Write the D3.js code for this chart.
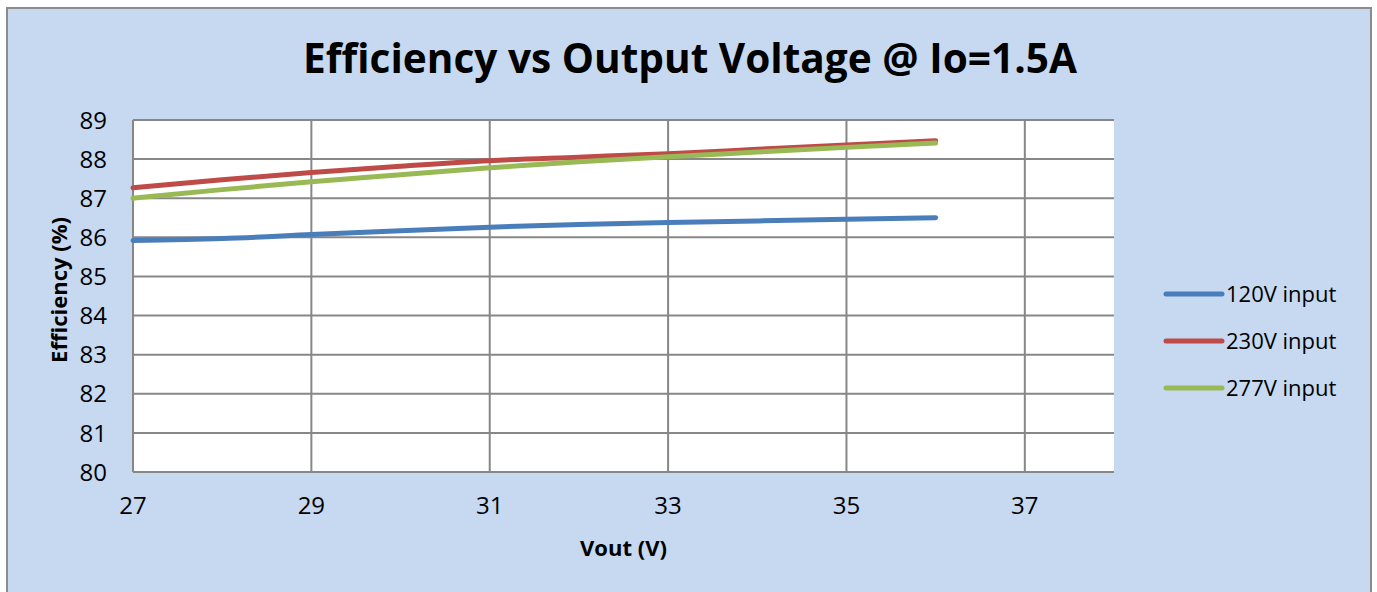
<!DOCTYPE html>
<html>
<head>
<meta charset="utf-8">
<script src="https://cdn.jsdelivr.net/npm/d3@7"></script>
<style>
  body { margin: 0; background: #fff; }
  svg { display: block; font-family: "Open Sans", sans-serif; }
</style>
</head>
<body>
<div id="chart"></div>
<script>
// data
const vout = [27, 28, 29, 30, 31, 32, 33, 34, 35, 36];
const eff120 = [85.92, 85.97, 86.07, 86.17, 86.26, 86.33, 86.38, 86.42, 86.46, 86.50];
const eff230 = [87.27, 87.47, 87.66, 87.82, 87.96, 88.05, 88.14, 88.25, 88.36, 88.47];
const eff277 = [87.00, 87.22, 87.42, 87.60, 87.78, 87.93, 88.06, 88.18, 88.30, 88.41];
const seriesNames = ["120V input", "230V input", "277V input"];
const seriesColors = ["#4a7ebb", "#be4b48", "#98b954"];
const xTicks = [27, 29, 31, 33, 35, 37];
const yTicks = [80, 81, 82, 83, 84, 85, 86, 87, 88, 89];

const W = 1377, H = 592;
const plot = {left: 133, top: 120, right: 1114, bottom: 472};

const svg = d3.select("#chart").append("svg")
    .attr("width", W)
    .attr("height", H);

// chart background + border
svg.append("rect")
    .attr("x", 7).attr("y", 8)
    .attr("width", 1364).attr("height", 600)
    .attr("fill", "#c6d9f0")
    .attr("stroke", "#8c8c8c")
    .attr("stroke-width", 2);

svg.append("rect")
    .attr("x", plot.left).attr("y", plot.top)
    .attr("width", plot.right - plot.left)
    .attr("height", plot.bottom - plot.top)
    .attr("fill", "#fff");

const x = d3.scaleLinear().domain([27, 38]).range([plot.left, plot.right]);
const y = d3.scaleLinear().domain([80, 89]).range([plot.bottom, plot.top]);

// gridlines
const grid = svg.append("g").attr("stroke", "#878787").attr("stroke-width", 2);
grid.selectAll(".h").data(yTicks).enter().append("line")
    .attr("x1", plot.left).attr("x2", plot.right)
    .attr("y1", d => y(d)).attr("y2", d => y(d));
grid.selectAll(".v").data(xTicks).enter().append("line")
    .attr("x1", d => x(d)).attr("x2", d => x(d))
    .attr("y1", plot.top).attr("y2", plot.bottom);

// tick labels
svg.append("g").selectAll("text").data(yTicks).enter().append("text")
    .attr("x", 107)
    .attr("y", d => y(d))
    .attr("dy", "0.36em")
    .attr("text-anchor", "end")
    .style("font-size", "24px")
    .text(d => d);

svg.append("g").selectAll("text").data(xTicks).enter().append("text")
    .attr("x", d => x(d))
    .attr("y", 514)
    .attr("text-anchor", "middle")
    .style("font-size", "24px")
    .text(d => d);

// series lines
const table = seriesNames.map((name, i) => ({
    name,
    color: seriesColors[i],
    values: vout.map((v, j) => ({v, e: [eff120, eff230, eff277][i][j]}))
}));

const line = d3.line()
    .x(d => x(d.v))
    .y(d => y(d.e))
    .curve(d3.curveMonotoneX);

svg.append("g").selectAll("path").data(table).enter().append("path")
    .attr("d", d => line(d.values))
    .attr("fill", "none")
    .attr("stroke", d => d.color)
    .attr("stroke-width", 5)
    .attr("stroke-linecap", "round")
    .attr("stroke-linejoin", "round");

// title
const title = svg.append("text")
    .attr("x", 690)
    .attr("y", 73)
    .attr("text-anchor", "middle")
    .style("font-size", "40px")
    .style("font-weight", "bold")
    .text("Efficiency vs Output Voltage @ Io=1.5A");
// fit width to the reference (~774px)
const tw = title.node().getComputedTextLength();
title.style("font-size", (40 * 774 / tw) + "px");

// axis titles
svg.append("text")
    .attr("x", (plot.left + plot.right) / 2)
    .attr("y", 556)
    .attr("text-anchor", "middle")
    .style("font-size", "22px")
    .style("font-weight", "bold")
    .text("Vout (V)");

svg.append("text")
    .attr("transform", `translate(67, ${(plot.top + plot.bottom) / 2 - 6}) rotate(-90)`)
    .attr("text-anchor", "middle")
    .style("font-size", "22px")
    .style("font-weight", "bold")
    .text("Efficiency (%)");

// legend
const legend = svg.append("g").attr("transform", "translate(1166, 294)");
table.forEach((s, i) => {
    const g = legend.append("g").attr("transform", `translate(0, ${i * 47})`);
    g.append("line")
        .attr("x1", 0).attr("x2", 56)
        .attr("stroke", s.color)
        .attr("stroke-width", 5)
        .attr("stroke-linecap", "round");
    g.append("text")
        .attr("x", 60)
        .attr("dy", "0.36em")
        .style("font-size", "22px")
        .text(s.name);
});
</script>
</body>
</html>
